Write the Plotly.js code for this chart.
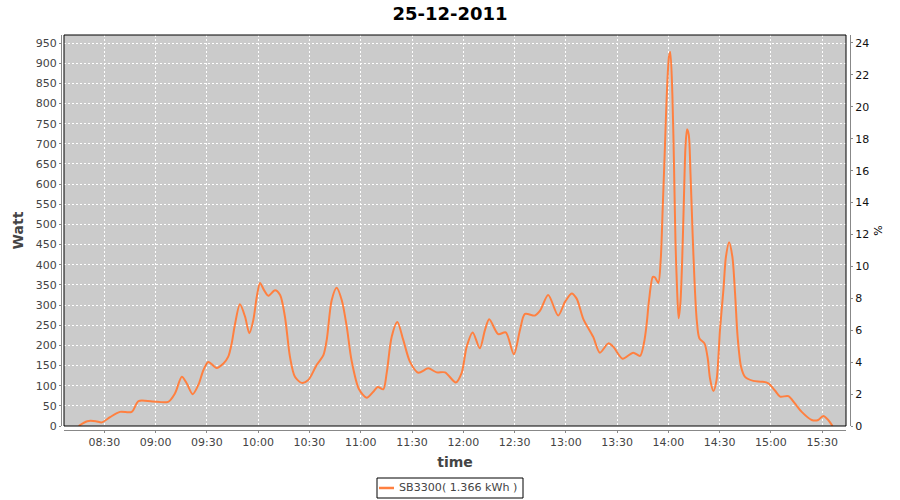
<!DOCTYPE html>
<html>
<head>
<meta charset="utf-8">
<script src="https://cdn.plot.ly/plotly-3.0.1.min.js"></script>
<style>html,body{margin:0;padding:0;background:#fff}#chart{width:900px;height:500px}</style>
</head>
<body>
<div id="chart"></div>
<script>
// Data (25-12-2011)
const day = "2011-12-25";
const times = ["08:15:00","08:20:00","08:25:00","08:28:30","08:33:20","08:39:10","08:46:00","08:50:00","08:58:00","09:07:20",
  "09:11:20","09:15:20","09:18:10","09:21:40","09:25:00","09:28:00","09:30:50","09:35:40","09:39:40","09:42:30",
  "09:44:30","09:46:20","09:49:20","09:52:20","09:54:50","09:57:10","09:59:10","10:01:05","10:03:25","10:05:55",
  "10:09:50","10:12:50","10:15:40","10:18:35","10:21:30","10:25:30","10:29:20","10:34:10","10:38:05","10:40:05",
  "10:43:00","10:45:55","10:48:55","10:51:50","10:54:40","10:59:00","11:03:30","11:07:20","11:09:55","11:13:10",
  "11:15:10","11:18:05","11:21:25","11:24:55","11:28:50","11:33:40","11:39:30","11:44:25","11:49:20","11:55:40",
  "11:59:00","12:02:00","12:05:30","12:09:40","12:12:40","12:15:10","12:20:25","12:24:50","12:29:35","12:33:10",
  "12:36:05","12:41:55","12:44:55","12:49:40","12:55:30","12:59:30","13:03:25","13:06:20","13:10:10","13:16:00",
  "13:19:55","13:24:50","13:27:40","13:33:10","13:39:25","13:43:25","13:45:50","13:47:20","13:48:40","13:50:55",
  "13:52:05","13:54:05","13:55:30","13:56:40","13:58:00","13:59:00","14:00:20","14:01:05","14:02:20","14:03:20",
  "14:04:10","14:05:10","14:06:00","14:07:00","14:08:00","14:09:00","14:10:00","14:10:55","14:11:55","14:12:55",
  "14:14:05","14:15:20","14:16:35","14:18:10","14:21:05","14:23:00","14:24:20","14:26:20","14:28:10","14:30:10",
  "14:32:10","14:33:40","14:35:30","14:37:25","14:39:00","14:40:30","14:42:30","14:44:50","14:49:40","14:54:30",
  "14:58:30","15:02:20","15:05:20","15:10:10","15:14:00","15:18:00","15:23:50","15:27:40","15:30:35","15:33:30",
  "15:36:00"];
const watts = [0,12,12,9,22,35,35,62,61,60,
  81,122,106,79,102,139,159,144,155,172,
  205,250,302,271,230,263,320,355,337,323,
  337,325,271,172,122,107,114,151,175,213,
  312,343,312,246,162,91,70,85,97,91,
  131,221,258,213,159,132,143,133,133,108,
  131,197,232,193,238,265,228,232,178,238,
  278,274,286,325,274,308,329,316,266,221,
  182,205,197,167,182,174,209,255,312,370,
  369,355,412,540,697,816,916,928,821,635,
  453,329,267,304,403,552,693,736,722,627,
  486,354,263,217,205,168,118,87,114,238,
  337,420,456,420,329,221,147,122,112,110,
  106,88,73,74,56,35,15,15,25,15,
  0];
const seriesName = "SB3300( 1.366 kWh )";
const chartTitle = "25-12-2011";
const xTickTimes = ["08:30","09:00","09:30","10:00","10:30","11:00","11:30","12:00","12:30","13:00","13:30","14:00","14:30","15:00","15:30"];

const xs = times.map(t => day + " " + t);
const tickvals = xTickTimes.map(t => day + " " + t + ":00");

const lineColor = "#ff8040";
const xd = [3/789, 785/789];
const yd = [4/395, 1];

const trace = {
  x: xs, y: watts, type: "scatter", mode: "lines", name: seriesName, showlegend: false,
  line: {color: lineColor, width: 2, shape: "spline", smoothing: 0.8},
  xaxis: "x", yaxis: "y"
};
const dummy = {x: [xs[0]], y: [0], yaxis: "y2", xaxis: "x", type: "scatter", mode: "none", showlegend: false, hoverinfo: "skip"};

const tickFont = {family: "DejaVu Sans, sans-serif", size: 11, color: "#444444"};

// legend box geometry (paper coordinates)
const lgY = -0.1468;

const layout = {
  width: 900, height: 500,
  margin: {l: 61, r: 50, t: 35, b: 70, autoexpand: false},
  paper_bgcolor: "#ffffff",
  plot_bgcolor: "#cbcbcb",
  title: {text: chartTitle, x: 0.5, xanchor: "center", y: 0.972, yanchor: "middle",
          font: {family: "DejaVu Sans, sans-serif", size: 18, color: "#000000", weight: "bold"}},
  showlegend: false,
  xaxis: {
    type: "date", domain: xd, anchor: "free", position: 0, automargin: false,
    range: [day + " 08:06:24", day + " 15:43:54"],
    tickvals: tickvals, ticktext: xTickTimes,
    showline: true, linecolor: "#888888", linewidth: 1,
    ticks: "outside", ticklen: 2, tickcolor: "#888888",
    showgrid: true, gridcolor: "#ffffff", gridwidth: 1, griddash: "2px,2px",
    zeroline: false, tickfont: tickFont,
    title: {text: "time", standoff: 8, font: {family: "DejaVu Sans, sans-serif", size: 14, color: "#444444", weight: "bold"}}
  },
  yaxis: {
    domain: yd, anchor: "free", position: 0, automargin: false,
    range: [0, 970], dtick: 50, tick0: 0,
    showline: true, linecolor: "#888888", linewidth: 1,
    ticks: "outside", ticklen: 2, tickcolor: "#888888",
    showgrid: true, gridcolor: "#ffffff", gridwidth: 1, griddash: "2px,2px",
    zeroline: false, tickfont: tickFont,
    title: {text: "Watt", standoff: 7, font: {family: "DejaVu Sans, sans-serif", size: 14, color: "#444444", weight: "bold"}}
  },
  yaxis2: {
    domain: yd, anchor: "free", position: 1, overlaying: "y", side: "right", automargin: false,
    range: [0, 24.5], dtick: 2, tick0: 0,
    showline: true, linecolor: "#888888", linewidth: 1,
    ticks: "outside", ticklen: 2, tickcolor: "#888888",
    showgrid: false, zeroline: false,
    tickfont: {family: "DejaVu Sans, sans-serif", size: 11, color: "#111111"},
    title: {text: "%", standoff: 6, font: {family: "DejaVu Sans, sans-serif", size: 11, color: "#000000"}}
  },
  shapes: [
    {type: "rect", xref: "paper", yref: "paper", x0: xd[0], x1: xd[1], y0: yd[0], y1: 1,
     line: {color: "#000000", width: 1}, fillcolor: "rgba(0,0,0,0)", layer: "above"},
    {type: "rect", xref: "paper", yref: "paper", x0: 316/789, x1: 462/789, y0: -68/395, y1: -48/395,
     line: {color: "#000000", width: 1}, fillcolor: "#ffffff"},
    {type: "line", xref: "paper", yref: "paper", x0: 318/789, x1: 333/789, y0: lgY, y1: lgY,
     line: {color: lineColor, width: 2.5}}
  ],
  annotations: [
    {xref: "paper", yref: "paper", x: 336/789, y: lgY, xanchor: "left", yanchor: "middle",
     text: seriesName, showarrow: false,
     font: {family: "DejaVu Sans, sans-serif", size: 11.1, color: "#444444"}}
  ]
};

Plotly.newPlot("chart", [trace, dummy], layout, {displayModeBar: false, staticPlot: true});
</script>
</body>
</html>
